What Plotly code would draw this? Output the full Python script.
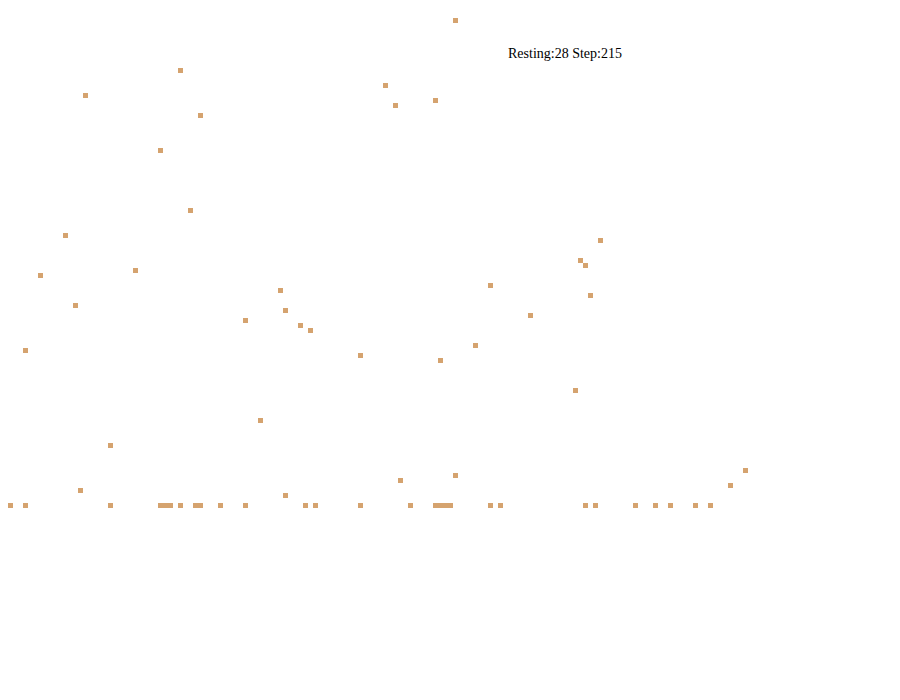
import plotly.graph_objects as go

# grid cells (column, row) of the grains still falling
falling_col = [89, 34, 15, 75, 77, 85, 38, 30, 36, 11, 118, 114, 115, 6, 25, 96, 54, 13, 116,
               55, 47, 58, 60, 104, 3, 70, 93, 86, 113, 50, 20, 89, 78, 147, 144, 14, 55]
falling_row = [3, 13, 18, 16, 20, 19, 22, 29, 41, 46, 47, 51, 52, 54, 53, 56, 57, 60, 58,
               61, 63, 64, 65, 62, 69, 70, 68, 71, 77, 83, 88, 94, 95, 93, 96, 97, 98]

# grains resting on the floor
resting_col = [0, 3, 20, 30, 31, 32, 34, 37, 38, 42, 47, 59, 61, 70, 80, 85, 86, 87, 88,
               96, 98, 115, 117, 125, 129, 132, 137, 140]
resting_row = [100] * len(resting_col)

step = 215
sand_color = '#d5a36f'

fig = go.Figure()
fig.add_trace(go.Scatter(
    x=falling_col, y=falling_row, mode='markers', name='falling',
    marker=dict(symbol='square', size=5, color=sand_color, line=dict(width=0)),
    hoverinfo='skip',
))
fig.add_trace(go.Scatter(
    x=resting_col, y=resting_row, mode='markers', name='resting',
    marker=dict(symbol='square', size=5, color=sand_color, line=dict(width=0)),
    hoverinfo='skip',
))

# one grid cell is 5 px; the page body adds an 8 px margin on top of that
fig.update_layout(
    width=900,
    height=700,
    margin=dict(l=0, r=0, t=0, b=0),
    paper_bgcolor='white',
    plot_bgcolor='white',
    showlegend=False,
    xaxis=dict(range=[-0.5, 179.5], visible=False, fixedrange=True),
    yaxis=dict(range=[140.5, 0.5], visible=False, fixedrange=True),
    annotations=[dict(
        text=f'Resting:{len(resting_col)} Step:{step}',
        xref='paper', yref='paper', x=498 / 900, y=1 - 45.75 / 700,
        xanchor='left', yanchor='middle', showarrow=False,
        font=dict(family='Liberation Serif', size=14, color='black'),
    )],
)

fig.write_html('out.html', config={'displayModeBar': False})
